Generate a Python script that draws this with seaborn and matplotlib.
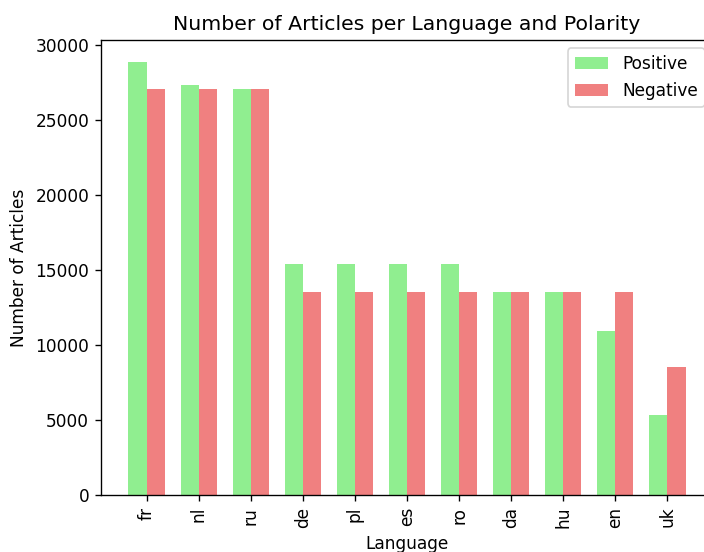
import matplotlib
matplotlib.use("Agg")
import matplotlib.pyplot as plt
from matplotlib.patches import Patch
import seaborn as sns
import pandas as pd

languages = ["fr", "nl", "ru", "de", "pl", "es", "ro", "da", "hu", "en", "uk"]
positive = [28870, 27300, 27050, 15400, 15400, 15400, 15400, 13500, 13500, 10900, 5350]
negative = [27050, 27050, 27050, 13500, 13500, 13500, 13500, 13500, 13500, 13500, 8540]
polarities = ["Positive", "Negative"]
colors = ["lightgreen", "lightcoral"]

df = pd.DataFrame({
    "Language": languages * 2,
    "Count": positive + negative,
    "Polarity": [polarities[0]] * len(languages) + [polarities[1]] * len(languages),
})

# the original looks rendered at a larger scale and cropped on the right
dpi = 122
fig = plt.figure(figsize=(704 / dpi, 552 / dpi), dpi=dpi)
ax = fig.add_axes([101 / 704, 57 / 552, 612 / 704, 455 / 552])

sns.barplot(data=df, x="Language", y="Count", hue="Polarity", order=languages,
            hue_order=polarities, palette=colors, saturation=1, width=0.7,
            linewidth=0, legend=False, ax=ax)

ax.set_xlim(-0.878, len(languages) - 1 + 0.878)
ax.set_ylim(0, max(positive + negative) * 1.05)
ax.tick_params(axis="x", rotation=90)
ax.set_title("Number of Articles per Language and Polarity")
ax.set_xlabel("Language")
ax.set_ylabel("Number of Articles")

handles = [Patch(facecolor=c, label=p) for c, p in zip(colors, polarities)]
ax.legend(handles=handles, loc="upper right")

plt.savefig("out.png", dpi=dpi)
plt.close()
